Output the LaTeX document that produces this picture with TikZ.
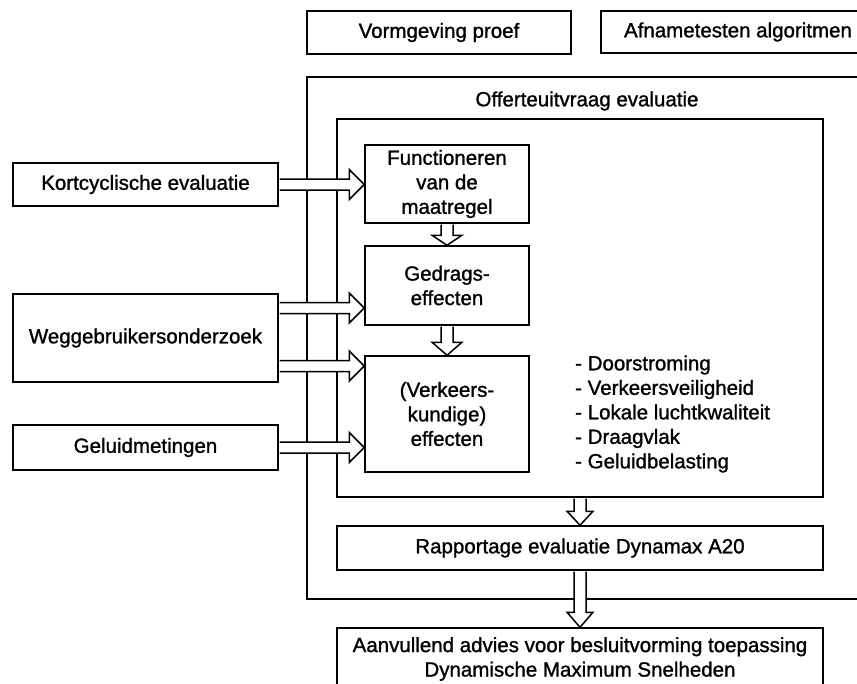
\documentclass[tikz,border=0pt]{standalone}
\usepackage{fontspec}
\setmainfont{Liberation Sans}[FakeBold=1.2]
\usetikzlibrary{calc}
\tikzset{
  txt/.style={font=\fontsize{20.5}{24.5}\selectfont},
  box/.style={draw, line width=1.5pt, inner sep=0pt, align=center, txt},
  lbl/.style={inner sep=0pt, align=center, txt},
  hollow/.style={draw, fill=white, line width=1.5pt, line join=miter},
}
% horizontal hollow arrow: from #1 (y taken from it) to the x of #2
\newcommand\harrow[2]{%
  \draw[hollow] let \p1=(#1), \p2=(#2) in
    (\x1+0.8pt,\y1+5.5pt) -- (\x2-15pt,\y1+5.5pt) -- (\x2-15pt,\y1+15pt) -- (\x2,\y1)
    -- (\x2-15pt,\y1-15pt) -- (\x2-15pt,\y1-5.5pt) -- (\x1+0.8pt,\y1-5.5pt);}
% vertical hollow arrow: from #1 (x taken from it) down to the y of #2; #3 head length, #4 head half width
\newcommand\varrow[4]{%
  \draw[hollow] let \p1=(#1), \p2=(#2) in
    (\x1-6pt,\y1-0.8pt) -- (\x1-6pt,\y2+#3) -- (\x1-#4,\y2+#3) -- (\x1,\y2)
    -- (\x1+#4,\y2+#3) -- (\x1+6pt,\y2+#3) -- (\x1+6pt,\y1-0.8pt);}
\begin{document}
\begin{tikzpicture}[x=1pt,y=-1pt]
\useasboundingbox (0,0) rectangle (857,683);
\clip (0,0) rectangle (857,683);

% top boxes
\node[box, minimum width=264pt, minimum height=43pt] (vorm) at (439,32.5) {Vormgeving proef};
\node[box, minimum width=274pt, minimum height=42pt] (afn) at (738,32) {Afnametesten algoritmen};

% outer and inner frames
\node[box, minimum width=555pt, minimum height=522pt] (outer) at (584.5,338) {};
\node[lbl] (title) at (587,101) {Offerteuitvraag evaluatie};
\node[box, minimum width=486pt, minimum height=378pt] (inner) at (580,308) {};

% left input boxes
\node[box, minimum width=265pt, minimum height=43pt] (kort) at (145.5,184.5) {Kortcyclische evaluatie};
\node[box, minimum width=265pt, minimum height=88pt] (wegg) at (145.5,338) {Weggebruikersonderzoek};
\node[box, minimum width=265pt, minimum height=45pt] (geluid) at (145.5,447.5) {Geluidmetingen};

% inner chain
\node[box, minimum width=164pt, minimum height=78pt] (func) at (447,184) {Functioneren\\van de\\maatregel};
\node[box, minimum width=164pt, minimum height=79pt] (gedr) at (447,285.5) {Gedrags-\\effecten};
\node[box, minimum width=164pt, minimum height=116pt] (verk) at (447,414) {(Verkeers-\\kundige)\\effecten};

\node[lbl, align=left, anchor=west] (list) at (575,414)
  {- Doorstroming\\- Verkeersveiligheid\\- Lokale luchtkwaliteit\\- Draagvlak\\- Geluidbelasting};

% report and advice
\node[box, minimum width=486pt, minimum height=44pt] (rapp) at (580,548) {Rapportage evaluatie Dynamax A20};
\node[box, minimum width=486pt, minimum height=62pt] (aanv) at (580,659)
  {Aanvullend advies voor besluitvorming toepassing\\Dynamische Maximum Snelheden};

% hollow arrows
\harrow{kort.east}{func.west}
\harrow{$(wegg.east)+(0,-30)$}{gedr.west}
\harrow{$(wegg.east)+(0,28)$}{verk.west}
\harrow{geluid.east}{verk.west}
\varrow{func.south}{gedr.north}{10pt}{15pt}
\varrow{gedr.south}{verk.north}{13pt}{15pt}
\varrow{inner.south}{rapp.north}{14pt}{13pt}
\varrow{rapp.south}{aanv.north}{15pt}{13pt}
\end{tikzpicture}
\end{document}
